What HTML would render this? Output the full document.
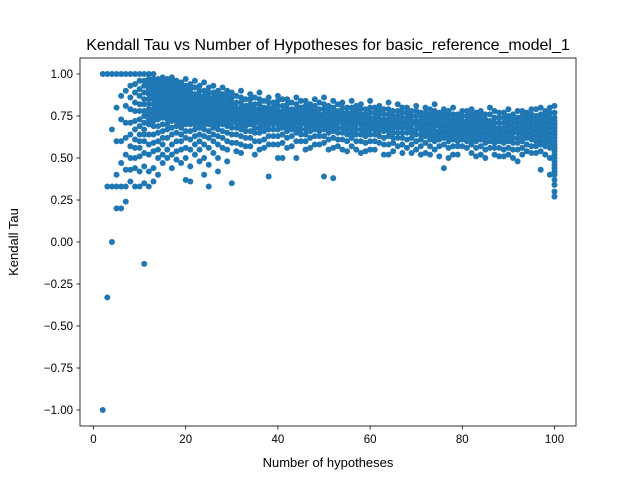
<!DOCTYPE html>
<html><head><meta charset="utf-8"><style>
body{margin:0;background:#fff;font-family:"Liberation Sans","DejaVu Sans",sans-serif}
svg text{font-family:"Liberation Sans","DejaVu Sans",sans-serif;fill:#000}
</style></head><body>
<svg id="chart" width="640" height="480" xmlns="http://www.w3.org/2000/svg">
<rect x="0" y="0" width="640" height="480" fill="#fff"/>
<text x="328" y="50" font-size="16" text-anchor="middle">Kendall Tau vs Number of Hypotheses for basic_reference_model_1</text>
<text x="328" y="467" font-size="13" text-anchor="middle">Number of hypotheses</text>
<text x="0" y="0" font-size="13" text-anchor="middle" transform="translate(18,242) rotate(-90)">Kendall Tau</text>
<g id="points"></g>
<g id="axes"></g>
</svg>
<script>
const hypCounts = [2,3,4,5,6,7,8,9,10,11,12,13,14,15,16,17,18,19,20,21,22,23,24,25,26,27,28,29,30,32,34,36,38,40,42,44,46,48,50,52,54,56,58,60,62,64,66,68,70,72,74,76,78,80,82,84,86,88,90,92,94,96,97,98,99,100,
31,33,35,37,39,41,43,45,47,49,51,53,55,57,59,61,63,65,67,69,71,73,75,77,79,81,83,85,87,89,91,93,95];
const tauValues = [
[1,-1],[1,0.33,-0.33],[1,0.67,0.33,0],[1,0.8,0.6,0.4,0.2,0.33],[1,0.87,0.73,0.6,0.47,0.33,0.2],[1,0.9,0.81,0.71,0.62,0.52,0.43,0.33,0.24],
[1,0.93,0.86,0.79,0.71,0.64,0.57,0.5,0.43,0.36],[1,0.94,0.89,0.83,0.78,0.72,0.67,0.61,0.56,0.5,0.44,0.33],[1,0.96,0.91,0.87,0.82,0.78,0.73,0.69,0.64,0.6,0.56,0.51,0.42,0.33],
[1,0.96,0.93,0.89,0.85,0.82,0.78,0.75,0.71,0.67,0.64,0.6,0.53,0.45,0.35,-0.13],[1,0.97,0.94,0.91,0.88,0.85,0.82,0.79,0.76,0.73,0.7,0.64,0.58,0.52,0.42,0.33],
[1,0.97,0.95,0.92,0.9,0.87,0.85,0.82,0.79,0.77,0.74,0.72,0.69,0.64,0.59,0.54,0.44,0.36],[0.97,0.95,0.93,0.91,0.89,0.87,0.84,0.82,0.8,0.78,0.76,0.73,0.69,0.65,0.6,0.55,0.5,0.4],
[0.98,0.96,0.94,0.92,0.9,0.88,0.86,0.84,0.82,0.8,0.78,0.76,0.74,0.7,0.66,0.62,0.58,0.52,0.47],[0.97,0.95,0.93,0.91,0.89,0.87,0.85,0.83,0.81,0.79,0.77,0.75,0.73,0.7,0.67,0.62,0.55,0.5],
[0.98,0.96,0.94,0.92,0.9,0.88,0.86,0.84,0.82,0.8,0.78,0.76,0.74,0.72,0.68,0.64,0.58,0.52,0.44],[0.96,0.94,0.92,0.9,0.88,0.86,0.84,0.82,0.8,0.78,0.76,0.74,0.72,0.69,0.65,0.6,0.54,0.49],
[0.95,0.93,0.91,0.89,0.87,0.85,0.83,0.81,0.79,0.77,0.75,0.73,0.71,0.68,0.64,0.6,0.55,0.47],[0.97,0.93,0.9,0.88,0.86,0.84,0.82,0.8,0.78,0.76,0.74,0.72,0.7,0.66,0.62,0.56,0.5,0.37],
[0.94,0.91,0.89,0.87,0.85,0.83,0.81,0.79,0.77,0.75,0.73,0.7,0.66,0.61,0.55,0.45,0.36],[0.96,0.92,0.88,0.86,0.84,0.82,0.8,0.78,0.76,0.74,0.72,0.7,0.67,0.63,0.58,0.52],
[0.93,0.9,0.87,0.85,0.83,0.81,0.79,0.77,0.75,0.73,0.71,0.68,0.64,0.6,0.55,0.48],[0.95,0.9,0.87,0.84,0.82,0.8,0.78,0.76,0.74,0.72,0.7,0.67,0.63,0.58,0.5,0.4],
[0.92,0.89,0.86,0.84,0.82,0.8,0.78,0.76,0.74,0.72,0.7,0.66,0.62,0.56,0.46,0.33],[0.93,0.89,0.86,0.83,0.81,0.79,0.77,0.75,0.73,0.71,0.68,0.64,0.6,0.53],
[0.9,0.87,0.84,0.82,0.8,0.78,0.76,0.74,0.72,0.7,0.67,0.63,0.58,0.5,0.42],[0.92,0.88,0.85,0.82,0.8,0.78,0.76,0.74,0.72,0.7,0.66,0.62,0.56],
[0.9,0.87,0.84,0.81,0.79,0.77,0.75,0.73,0.71,0.69,0.65,0.6,0.55,0.48],[0.89,0.86,0.83,0.81,0.79,0.77,0.75,0.73,0.71,0.68,0.64,0.59,0.35],
[0.9,0.86,0.83,0.8,0.78,0.76,0.74,0.72,0.7,0.67,0.63,0.58,0.53],[0.88,0.85,0.82,0.8,0.78,0.76,0.74,0.72,0.7,0.66,0.62,0.57],
[0.89,0.85,0.82,0.79,0.77,0.75,0.73,0.71,0.68,0.65,0.6,0.55],[0.86,0.83,0.8,0.78,0.76,0.74,0.72,0.7,0.67,0.63,0.58,0.39],
[0.87,0.84,0.81,0.78,0.76,0.74,0.72,0.7,0.67,0.63,0.58,0.5],[0.85,0.82,0.79,0.77,0.75,0.73,0.71,0.69,0.66,0.62,0.56],
[0.86,0.82,0.79,0.77,0.75,0.73,0.71,0.68,0.65,0.6,0.5],[0.84,0.81,0.78,0.76,0.74,0.72,0.7,0.67,0.64,0.6,0.55],
[0.85,0.81,0.78,0.76,0.74,0.72,0.7,0.67,0.63,0.58],[0.86,0.82,0.79,0.76,0.74,0.72,0.7,0.67,0.63,0.59,0.39],
[0.84,0.8,0.77,0.75,0.73,0.71,0.69,0.66,0.62,0.56,0.38],[0.83,0.8,0.77,0.75,0.73,0.71,0.68,0.65,0.61,0.55],
[0.84,0.8,0.77,0.74,0.72,0.7,0.68,0.65,0.62,0.57],[0.82,0.79,0.76,0.74,0.72,0.7,0.67,0.64,0.6,0.53],
[0.84,0.8,0.77,0.74,0.72,0.7,0.67,0.64,0.6,0.55],[0.81,0.78,0.76,0.73,0.71,0.69,0.66,0.63,0.59],
[0.83,0.79,0.76,0.73,0.71,0.69,0.66,0.63,0.58,0.52],[0.82,0.78,0.75,0.72,0.7,0.68,0.65,0.62,0.57],
[0.8,0.77,0.74,0.72,0.7,0.68,0.65,0.61,0.56],[0.81,0.78,0.75,0.72,0.7,0.67,0.64,0.6,0.55],
[0.8,0.77,0.74,0.71,0.69,0.66,0.63,0.59,0.53],[0.82,0.78,0.75,0.72,0.69,0.66,0.63,0.6,0.55],
[0.79,0.76,0.73,0.7,0.68,0.65,0.62,0.58,0.44],[0.8,0.76,0.73,0.7,0.67,0.64,0.61,0.57,0.52],
[0.78,0.75,0.72,0.7,0.67,0.64,0.61,0.57],[0.79,0.76,0.73,0.7,0.67,0.64,0.61,0.58,0.53],
[0.78,0.75,0.72,0.69,0.67,0.64,0.61,0.57,0.52],[0.8,0.76,0.72,0.69,0.66,0.63,0.6,0.56],
[0.77,0.74,0.71,0.68,0.66,0.63,0.6,0.56,0.51],[0.79,0.75,0.72,0.69,0.66,0.63,0.6,0.56,0.52],
[0.78,0.74,0.71,0.68,0.65,0.62,0.59,0.55,0.48],[0.77,0.74,0.71,0.68,0.65,0.62,0.58,0.54],
[0.79,0.75,0.72,0.69,0.66,0.63,0.6,0.57,0.53],[0.8,0.76,0.73,0.7,0.67,0.64,0.61,0.58,0.54,0.43],
[0.78,0.75,0.72,0.69,0.66,0.63,0.6,0.57,0.52],[0.8,0.77,0.74,0.71,0.68,0.65,0.62,0.59,0.56,0.5,0.4],
[0.81,0.77,0.74,0.72,0.7,0.68,0.66,0.64,0.62,0.6,0.58,0.56,0.54,0.52,0.5,0.48,0.46,0.44,0.42,0.4,0.37,0.34,0.3,0.27],
[0.87,0.83,0.8,0.77,0.75,0.73,0.71,0.68,0.64,0.59,0.54],[0.85,0.81,0.78,0.76,0.74,0.72,0.69,0.66,0.62,0.57],
[0.86,0.82,0.79,0.76,0.73,0.71,0.68,0.65,0.6,0.52],[0.84,0.8,0.78,0.75,0.73,0.71,0.69,0.66,0.61,0.56],
[0.83,0.8,0.77,0.75,0.72,0.7,0.67,0.63,0.58],[0.85,0.81,0.78,0.75,0.73,0.71,0.68,0.64,0.59,0.5],
[0.83,0.79,0.77,0.74,0.72,0.7,0.67,0.63,0.57],[0.84,0.8,0.77,0.75,0.73,0.7,0.67,0.64,0.6],
[0.82,0.79,0.76,0.74,0.72,0.69,0.66,0.62,0.56],[0.83,0.79,0.76,0.74,0.71,0.69,0.66,0.63,0.58],
[0.81,0.78,0.76,0.73,0.71,0.68,0.65,0.61,0.55],[0.82,0.78,0.75,0.73,0.71,0.68,0.65,0.61,0.57],
[0.8,0.77,0.75,0.72,0.7,0.67,0.64,0.6,0.54],[0.81,0.78,0.75,0.72,0.7,0.67,0.64,0.6,0.55],
[0.79,0.76,0.74,0.71,0.69,0.66,0.63,0.59,0.54],[0.8,0.77,0.74,0.72,0.69,0.67,0.64,0.6,0.55],
[0.79,0.76,0.73,0.71,0.68,0.66,0.62,0.58,0.52],[0.78,0.75,0.73,0.7,0.68,0.65,0.62,0.59,0.54],
[0.8,0.77,0.74,0.71,0.68,0.65,0.62,0.58,0.53],[0.78,0.75,0.72,0.7,0.67,0.65,0.62,0.58,0.53],
[0.77,0.75,0.72,0.69,0.67,0.64,0.61,0.57,0.52],[0.79,0.76,0.73,0.7,0.67,0.64,0.61,0.57,0.52],
[0.77,0.74,0.71,0.69,0.66,0.64,0.61,0.57,0.51],[0.78,0.75,0.72,0.69,0.66,0.63,0.6,0.56,0.5],
[0.76,0.74,0.71,0.68,0.66,0.63,0.6,0.57,0.52],[0.78,0.75,0.72,0.69,0.66,0.63,0.6,0.56],
[0.77,0.74,0.71,0.68,0.65,0.63,0.6,0.56,0.51],[0.76,0.73,0.7,0.68,0.65,0.62,0.59,0.55,0.5],
[0.78,0.74,0.71,0.68,0.65,0.62,0.59,0.56,0.52],[0.77,0.74,0.71,0.68,0.65,0.62,0.59,0.55,0.51],
[0.76,0.73,0.7,0.67,0.65,0.62,0.59,0.55,0.5],[0.78,0.75,0.72,0.69,0.66,0.63,0.6,0.56,0.52],
[0.79,0.76,0.73,0.7,0.67,0.64,0.61,0.57,0.53]
];
const xTicks=[0,20,40,60,80,100];
const yTicks=[-1.00,-0.75,-0.50,-0.25,0.00,0.25,0.50,0.75,1.00];
const L=80,R=576,T=58,B=426;
const xs=v=>93.5+v*4.61;
const ys=v=>242-v*168;
const NS='http://www.w3.org/2000/svg';
const pg=document.getElementById('points');
hypCounts.forEach((h,i)=>{tauValues[i].forEach(t=>{
 const c=document.createElementNS(NS,'circle');
 c.setAttribute('cx',xs(h));c.setAttribute('cy',ys(t));c.setAttribute('r',3);c.setAttribute('fill','#1f77b4');
 
 
 pg.appendChild(c);});});
const ag=document.getElementById('axes');
let h=`<rect x="${L}" y="${T}" width="${R-L}" height="${B-T}" fill="none" stroke="#000" stroke-width="0.8"/>`;
xTicks.forEach(t=>{const x=xs(t);h+=`<line x1="${x}" y1="${B}" x2="${x}" y2="${B+3.5}" stroke="#000" stroke-width="0.8"/><text x="${x}" y="${B+17}" font-size="11.5" text-anchor="middle">${t}</text>`;});
yTicks.forEach(t=>{const y=ys(t);h+=`<line x1="${L}" y1="${y}" x2="${L-3.5}" y2="${y}" stroke="#000" stroke-width="0.8"/><text x="${L-7}" y="${y+4}" font-size="11.5" text-anchor="end">${t<0?'\u2212'+Math.abs(t).toFixed(2):t.toFixed(2)}</text>`;});
ag.innerHTML=h;
</script>
</body></html>
